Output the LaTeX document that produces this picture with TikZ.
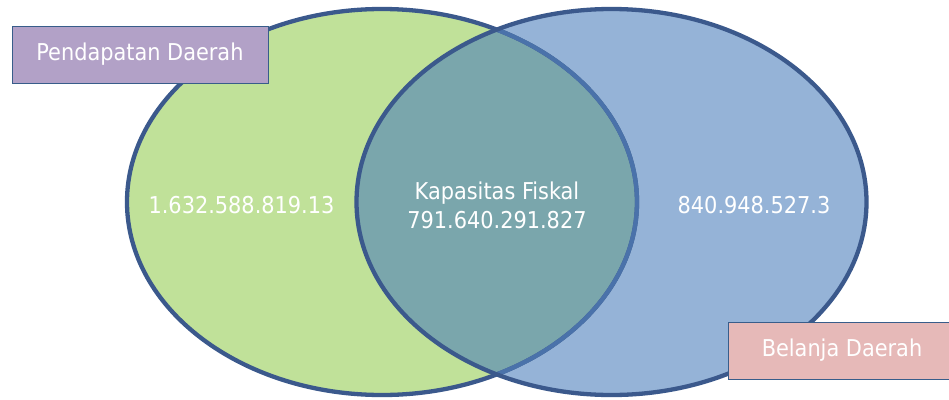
\documentclass[tikz,border=0pt]{standalone}
\usepackage{fontspec}
\setmainfont{DejaVu Sans Condensed}
\definecolor{incomegreen}{RGB}{192,225,153}
\definecolor{spendblue}{RGB}{149,179,215}
\definecolor{overlapteal}{RGB}{122,166,172}
\definecolor{rimblue}{RGB}{59,89,140}
\definecolor{rimlight}{RGB}{74,114,170}
\definecolor{tagpurple}{RGB}{178,161,199}
\definecolor{tagpink}{RGB}{230,185,184}
\definecolor{tagedge}{RGB}{56,93,138}
\tikzset{
  rim/.style={line width=4.3pt, draw=rimblue},
  tag/.style={draw=tagedge, line width=0.9pt, minimum height=57pt, inner sep=0pt,
    text=white, font=\fontsize{23.2}{27}\selectfont},
  figure/.style={text=white, font=\fontsize{23.2}{29}\selectfont, align=center}
}
\begin{document}
\begin{tikzpicture}[x=1pt,y=-1pt]
\useasboundingbox (0,0) rectangle (949,399);
% the two sets
\def\leftset{(382,202) ellipse [x radius=255, y radius=193]}
\def\rightset{(611.5,202) ellipse [x radius=255, y radius=193]}
\fill[incomegreen] \leftset;
\fill[spendblue] \rightset;
\begin{scope}
  \clip \leftset;
  \fill[overlapteal] \rightset;
\end{scope}
% outlines
\draw[rim] \leftset;
\begin{scope}
  \clip \rightset;
  \draw[rim, draw=rimlight] \leftset;
\end{scope}
\draw[rim] \rightset;
% values
\node[figure] (income) at (241.5,205) {1.632.588.819.13};
\node[figure] (fiscal) at (497,205) {Kapasitas Fiskal\\791.640.291.827};
\node[figure] (spend) at (754,205) {840.948.527.3};
% tags
\node[tag, fill=tagpurple, minimum width=256pt] (pendapatan) at (140,54.5) {Pendapatan Daerah};
\node[tag, fill=tagpink, minimum width=228pt] (belanja) at (842,350.5) {Belanja Daerah};
\end{tikzpicture}
\end{document}
